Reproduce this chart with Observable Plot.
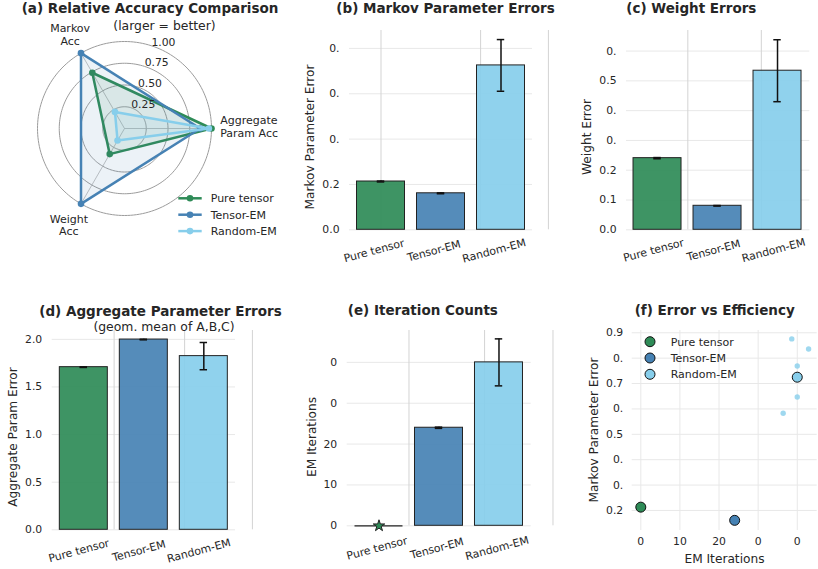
<!DOCTYPE html>
<html><head><meta charset="utf-8">
<script src="https://cdn.jsdelivr.net/npm/d3@7"></script>
<script src="https://cdn.jsdelivr.net/npm/@observablehq/plot@0.6"></script>
<style>
html,body{margin:0;padding:0;background:#fff;}
#fig{position:relative;width:818px;height:569px;overflow:hidden;background:#fff;font-family:"DejaVu Sans",sans-serif;color:#262626;}
.t{position:absolute;white-space:pre;line-height:1;color:#262626;font-family:"DejaVu Sans",sans-serif;}
#fig svg{position:absolute;overflow:visible;}
</style></head><body><div id="fig"></div>
<script>
// ---------- data ----------
const methods = ["Pure tensor", "Tensor-EM", "Random-EM"];
const methodColors = ["#2e8b57", "#4682b4", "#87ceeb"];

// (a) radar
const radarAxes = ["Markov\nAcc", "Aggregate\nParam Acc", "Weight\nAcc"];
const radarAngles = [120, 0, 240];
const radarPure = [0.74, 1.0, 0.34];
const radarTensorEM = [1.0, 0.87, 1.0];
const radarRandomEM = [0.22, 0.97, 0.16];
const radarTicks = [0.25, 0.5, 0.75, 1.0];
const radarTickLabels = ["0.25", "0.50", "0.75", "1.00"];

// (b) Markov parameter errors
const markovErr = [0.213, 0.161, 0.725];
const markovStd = [0.002, 0.002, 0.114];
const markovTicks = [0, 0.2, 0.4, 0.6, 0.8];
const markovTickLabels = ["0.0", "0.2", "0.", "0.", "0."];
const markovVlines = [0, 1.66, 2.79];

// (c) weight errors
const weightErr = [0.2405, 0.0806, 0.534];
const weightStd = [0.002, 0.001, 0.104];
const weightTicks = [0, 0.1, 0.2, 0.3, 0.4, 0.5, 0.6];
const weightTickLabels = ["0.0", "0.1", "0.2", "0.", "0.", "0.5", "0."];
const weightVlines = [0.505, 1.73];

// (d) aggregate parameter errors
const aggErr = [1.708, 1.998, 1.824];
const aggStd = [0.003, 0.003, 0.143];
const aggTicks = [0, 0.5, 1.0, 1.5, 2.0];
const aggTickLabels = ["0.0", "0.5", "1.0", "1.5", "2.0"];
const aggVlines = [0.505, 1.68, 2.81];

// (e) iteration counts
const iters = [0, 24.0, 40.0];
const itersStd = [0, 0.15, 5.75];
const iterTicks = [0, 10, 20, 30, 40];
const iterTickLabels = ["0", "10", "20", "0", "0"];
const iterVlines = [0.5, 1.76, 2.9];

// (f) error vs efficiency
const runIters = [38.6, 42.9, 40.0, 40.0, 36.4];
const runMarkov = [0.876, 0.836, 0.769, 0.647, 0.583];
const fXTicks = [0, 10, 20, 30, 40];
const fXTickLabels = ["0", "10", "20", "0", "0"];
const fYTicks = [0.2, 0.3, 0.4, 0.5, 0.6, 0.7, 0.8, 0.9];
const fYTickLabels = ["0.2", "0.", "0.", "0.5", "0.", "0.7", "0.", "0.9"];

// ---------- helpers ----------
const fig = document.getElementById("fig");
const FONT = '"DejaVu Sans", sans-serif';
const baseStyle = {fontFamily: FONT, fontSize: "10.8px", color: "#262626", background: "transparent", overflow: "visible"};
function put(el, left, top) { el.style.left = left + "px"; el.style.top = top + "px"; fig.append(el); }
function text(s, cx, cy, size, weight = "normal", rot = 0) {
  const d = document.createElement("div");
  d.className = "t"; d.textContent = s;
  d.style.fontSize = size + "px"; d.style.fontWeight = weight;
  d.style.left = cx + "px"; d.style.top = cy + "px";
  d.style.transform = `translate(-50%,-50%)` + (rot ? ` rotate(${rot}deg)` : "");
  fig.append(d);
}
const rad = a => a * Math.PI / 180;

function barPanel(o) {
  const rows = methods.map((name, i) => ({i, name, color: methodColors[i], v: o.values[i], s: o.stds[i]}));
  const cap = 0.062;
  const errRows = rows.filter(d => d.s > 0);
  const capRows = errRows.flatMap(d => [{...d, y: d.v - d.s}, {...d, y: d.v + d.s}]);
  const zeroRows = rows.filter(d => d.v === 0);
  const marks = [
    Plot.ruleY(o.ticks, {stroke: "#e8e8e8", strokeWidth: 1}),
    Plot.ruleX(o.vlines, {stroke: "#d3d3d3", strokeWidth: 1}),
    Plot.rect(rows.filter(d => d.v > 0), {x1: d => d.i - 0.4, x2: d => d.i + 0.4, y1: () => 0, y2: "v",
      fill: "color", fillOpacity: 0.92, stroke: "#222", strokeWidth: 1}),
    Plot.ruleY(zeroRows, {y: "v", x1: d => d.i - 0.4, x2: d => d.i + 0.4, stroke: "#222", strokeWidth: 1.2}),
    Plot.dot(zeroRows, {x: "i", y: "v", symbol: "star", fill: "color", stroke: "#222", strokeWidth: 1, r: 3.6}),
    Plot.ruleX(errRows, {x: "i", y1: d => d.v - d.s, y2: d => d.v + d.s, stroke: "#111", strokeWidth: 1.5}),
    Plot.ruleY(capRows, {y: "y", x1: d => d.i - cap, x2: d => d.i + cap, stroke: "#111", strokeWidth: 1.5}),
    Plot.text(rows, {x: "i", text: "name", frameAnchor: "bottom", dy: o.labelDy, dx: o.labelDx, rotate: -15,
      fontSize: 10.9, fill: "#262626"})
  ];
  const svg = Plot.plot({
    width: o.width, height: o.height,
    marginLeft: o.mL, marginRight: o.mR, marginTop: o.mT, marginBottom: o.mB,
    style: baseStyle,
    x: {domain: o.xDomain, axis: null},
    y: {domain: o.yDomain, ticks: o.ticks, tickFormat: d => o.tickLabels[o.ticks.indexOf(d)],
        tickSize: 0, tickPadding: 10, label: null},
    color: {type: "identity"},
    marks
  });
  put(svg, o.left, o.top);
}

// ---------- (a) radar ----------
{
  const series = [
    {name: methods[0], color: methodColors[0], vals: radarPure},
    {name: methods[1], color: methodColors[1], vals: radarTensorEM},
    {name: methods[2], color: methodColors[2], vals: radarRandomEM}
  ];
  const ringPts = radarTicks.flatMap(r => d3.range(0, 360, 2).map(a => ({r, x: r * Math.cos(rad(a)), y: r * Math.sin(rad(a))})));
  const marks = [
    Plot.line(ringPts, {x: "x", y: "y", z: "r", curve: "linear-closed", stroke: "#9c9c9c", strokeWidth: 1}),
    Plot.link(radarAngles, {x1: () => 0, y1: () => 0, x2: a => Math.cos(rad(a)), y2: a => Math.sin(rad(a)),
      stroke: "#b4b4b4", strokeWidth: 0.8})
  ];
  for (const s of series) {
    const pts = radarAngles.map((a, k) => ({x: s.vals[k] * Math.cos(rad(a)), y: s.vals[k] * Math.sin(rad(a))}));
    marks.push(
      Plot.line(pts, {x: "x", y: "y", curve: "linear-closed", fill: s.color, fillOpacity: 0.1, stroke: "none"}),
      Plot.line(pts, {x: "x", y: "y", curve: "linear-closed", stroke: s.color, strokeWidth: 2.5}),
      Plot.dot(pts, {x: "x", y: "y", fill: s.color, r: 3.3})
    );
  }
  const tickAngle = rad(72);
  marks.push(Plot.text(radarTicks, {x: r => r * Math.cos(tickAngle), y: r => r * Math.sin(tickAngle),
    text: (d, i) => radarTickLabels[i], textAnchor: "start", lineAnchor: "bottom", fontSize: 10.8, fill: "#262626"}));
  const labelStyle = [{r: 1.25, anchor: "middle", dy: 0}, {r: 1.1, anchor: "start", dy: -2}, {r: 1.28, anchor: "middle", dy: 0}];
  radarAxes.forEach((lab, k) => {
    const st = labelStyle[k], a = rad(radarAngles[k]);
    marks.push(Plot.text([lab], {x: () => st.r * Math.cos(a), y: () => st.r * Math.sin(a), text: d => d,
      textAnchor: st.anchor, lineAnchor: "middle", lineHeight: 1.17, dy: st.dy, fontSize: 11, fill: "#262626"}));
  });
  const W = 280, H = 250, cx = 124, cy = 108, R = 87;
  const svg = Plot.plot({
    width: W, height: H, marginLeft: 0, marginRight: 0, marginTop: 0, marginBottom: 0,
    style: baseStyle,
    x: {domain: [-cx / R, (W - cx) / R], axis: null},
    y: {domain: [-(H - cy) / R, cy / R], axis: null},
    marks
  });
  put(svg, 0, 20);
}

// ---------- (b)-(e) bars ----------
barPanel({left: 280, top: 20, width: 270, height: 260, mL: 69, mR: 18, mT: 10, mB: 50.7,
  xDomain: [-0.525, 2.525], yDomain: [0, 0.879], values: markovErr, stds: markovStd,
  ticks: markovTicks, tickLabels: markovTickLabels, vlines: markovVlines, labelDy: 24.5, labelDx: -6});
barPanel({left: 550, top: 20, width: 268, height: 260, mL: 76, mR: 8.7, mT: 10, mB: 50.7,
  xDomain: [-0.517, 2.538], yDomain: [0, 0.669], values: weightErr, stds: weightStd,
  ticks: weightTicks, tickLabels: weightTickLabels, vlines: weightVlines, labelDy: 24, labelDx: -3});
barPanel({left: 0, top: 320, width: 280, height: 249, mL: 51.7, mR: 45, mT: 10, mB: 39.7,
  xDomain: [-0.527, 2.528], yDomain: [0, 2.093], values: aggErr, stds: aggStd,
  ticks: aggTicks, tickLabels: aggTickLabels, vlines: aggVlines, labelDy: 24.5, labelDx: -4});
barPanel({left: 280, top: 320, width: 270, height: 249, mL: 66.7, mR: 19.3, mT: 10, mB: 43.7,
  xDomain: [-0.53, 2.537], yDomain: [0, 47.8], values: iters, stds: itersStd,
  ticks: iterTicks, tickLabels: iterTickLabels, vlines: iterVlines, labelDy: 26, labelDx: -1});

// ---------- (f) scatter ----------
{
  const runs = runIters.map((x, k) => ({x, y: runMarkov[k]}));
  const means = methods.map((name, i) => ({name, color: methodColors[i], x: iters[i], y: markovErr[i]}));
  const svg = Plot.plot({
    width: 268, height: 249, marginLeft: 81.7, marginRight: 1.3, marginTop: 10, marginBottom: 39,
    style: baseStyle,
    x: {domain: [-2.2, 45.1], ticks: fXTicks, tickFormat: d => fXTickLabels[fXTicks.indexOf(d)],
        tickSize: 0, tickPadding: 7, label: null},
    y: {domain: [0.121, 0.909], ticks: fYTicks, tickFormat: d => fYTickLabels[fYTicks.indexOf(d)],
        tickSize: 0, tickPadding: 9, label: null},
    color: {type: "identity"},
    marks: [
      Plot.ruleY(fYTicks, {stroke: "#e8e8e8", strokeWidth: 1}),
      Plot.ruleX(fXTicks, {stroke: "#e8e8e8", strokeWidth: 1}),
      Plot.dot(runs, {x: "x", y: "y", r: 2.7, fill: methodColors[2], fillOpacity: 0.8, stroke: "none"}),
      Plot.dot(means, {x: "x", y: "y", r: 5, fill: "color", stroke: "#111", strokeWidth: 1})
    ]
  });
  put(svg, 550, 320);
}

// ---------- legends ----------
{
  const ov = d3.create("svg").attr("width", 818).attr("height", 569).style("left", "0px").style("top", "0px")
    .style("pointer-events", "none").style("font-family", FONT);
  methods.forEach((m, i) => {
    const y = 198.3 + i * 16.4;
    ov.append("line").attr("x1", 178.3).attr("x2", 201.7).attr("y1", y).attr("y2", y)
      .attr("stroke", methodColors[i]).attr("stroke-width", 2.5);
    ov.append("circle").attr("cx", 190).attr("cy", y).attr("r", 3.3).attr("fill", methodColors[i]);
    ov.append("text").attr("x", 210.7).attr("y", y).attr("dy", "0.35em").attr("font-size", 11)
      .attr("fill", "#262626").text(m);
    const y2 = 341.7 + i * 16.3;
    ov.append("circle").attr("cx", 650).attr("cy", y2).attr("r", 5).attr("fill", methodColors[i])
      .attr("stroke", "#111").attr("stroke-width", 1);
    ov.append("text").attr("x", 670.7).attr("y", y2).attr("dy", "0.35em").attr("font-size", 11)
      .attr("fill", "#262626").text(m);
  });
  fig.append(ov.node());
}

// ---------- titles and labels ----------
text("(a) Relative Accuracy Comparison", 150, 9, 13.5, "bold");
text("(larger = better)", 164.5, 25.5, 12.4);
text("(b) Markov Parameter Errors", 445.5, 9.2, 13.5, "bold");
text("(c) Weight Errors", 691.3, 9.2, 13.5, "bold");
text("(d) Aggregate Parameter Errors", 160.5, 311.5, 13.5, "bold");
text("(geom. mean of A,B,C)", 164, 326.7, 12.4);
text("(e) Iteration Counts", 422.8, 310.7, 13.5, "bold");
text("(f) Error vs Efficiency", 714.7, 310.7, 13.5, "bold");

text("Markov Parameter Error", 310, 136.7, 12.2, "normal", -90);
text("Weight Error", 586.7, 136.7, 12.2, "normal", -90);
text("Aggregate Param Error", 13.3, 436.7, 12.2, "normal", -90);
text("EM Iterations", 312.3, 436.7, 12.2, "normal", -90);
text("Markov Parameter Error", 593.8, 430, 12.2, "normal", -90);
text("EM Iterations", 724.5, 559, 12.2);
</script></body></html>
